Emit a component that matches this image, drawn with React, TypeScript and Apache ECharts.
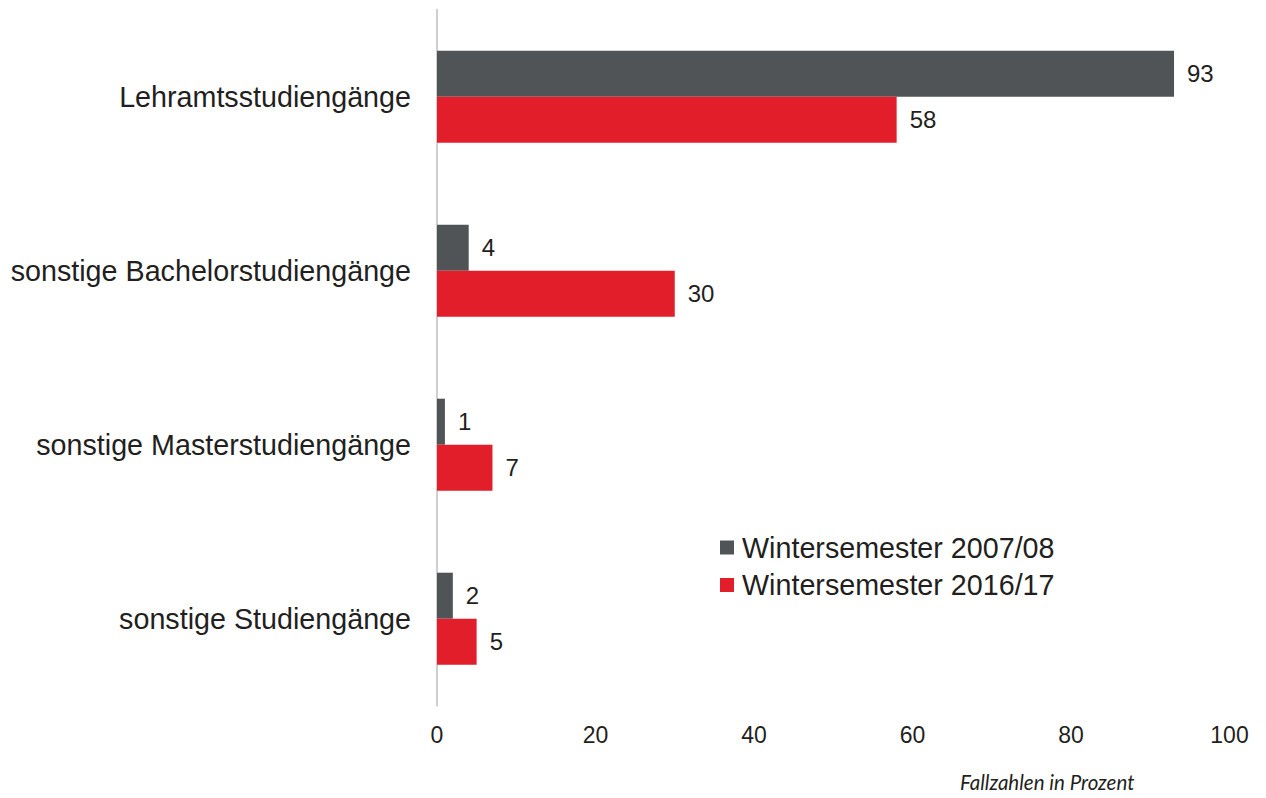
import React, { useEffect, useRef } from "react";
import * as echarts from "echarts";

const categories = [
  "Lehramtsstudiengänge",
  "sonstige Bachelorstudiengänge",
  "sonstige Masterstudiengänge",
  "sonstige Studiengänge",
];
const ws0708 = [93, 4, 1, 2];
const ws1617 = [58, 30, 7, 5];
const seriesNames = ["Wintersemester 2007/08", "Wintersemester 2016/17"];
const xTicks = [0, 20, 40, 60, 80, 100];
const note = "Fallzahlen in Prozent";

export default function App() {
  const ref = useRef<HTMLDivElement>(null);
  useEffect(() => {
    if (!ref.current) return;
    const chart = echarts.init(ref.current, null, { renderer: "svg" });
    const font = "'Liberation Sans', Arial, sans-serif";
    const labelStyle = {
      show: true,
      position: "right",
      distance: 13,
      fontSize: 24,
      color: "#231f20",
      fontFamily: font,
    };
    chart.setOption({
      animation: false,
      backgroundColor: "#ffffff",
      grid: { left: 437, right: 36.5, top: 9.7, bottom: 92.3, containLabel: false },
      legend: {
        orient: "vertical",
        left: 720,
        top: 533,
        padding: 0,
        itemWidth: 14,
        itemHeight: 14,
        itemGap: 8.5,
        icon: "rect",
        textStyle: { fontSize: 28.7, color: "#231f20", fontFamily: font, padding: [0, 0, 0, 3] },
        data: seriesNames,
      },
      xAxis: {
        type: "value",
        min: xTicks[0],
        max: xTicks[xTicks.length - 1],
        interval: 20,
        axisLine: { show: false },
        axisTick: { show: false },
        splitLine: { show: false },
        axisLabel: { fontSize: 23, color: "#231f20", fontFamily: font, margin: 18 },
      },
      yAxis: {
        type: "category",
        inverse: true,
        data: categories,
        axisLine: { show: true, lineStyle: { color: "#cfcfcf", width: 2 } },
        axisTick: { show: false },
        axisLabel: { fontSize: 28.7, color: "#231f20", fontFamily: font, margin: 26 },
      },
      series: [
        {
          name: seriesNames[0],
          type: "bar",
          data: ws0708,
          barWidth: 46,
          barGap: "0%",
          itemStyle: { color: "#515457" },
          label: labelStyle,
        },
        {
          name: seriesNames[1],
          type: "bar",
          data: ws1617,
          barWidth: 46,
          barGap: "0%",
          itemStyle: { color: "#e31e2b" },
          label: labelStyle,
        },
      ],
      graphic: [
        {
          type: "text",
          left: 960,
          top: 772,
          style: {
            text: note,
            fontSize: 20.5,
            fontStyle: "italic",
            fontFamily: "Lato, sans-serif",
            fill: "#231f20",
          },
        },
      ],
    });
    return () => chart.dispose();
  }, []);
  return <div ref={ref} style={{ width: 1266, height: 798, position: "absolute", left: 0, top: 0 }} />;
}
